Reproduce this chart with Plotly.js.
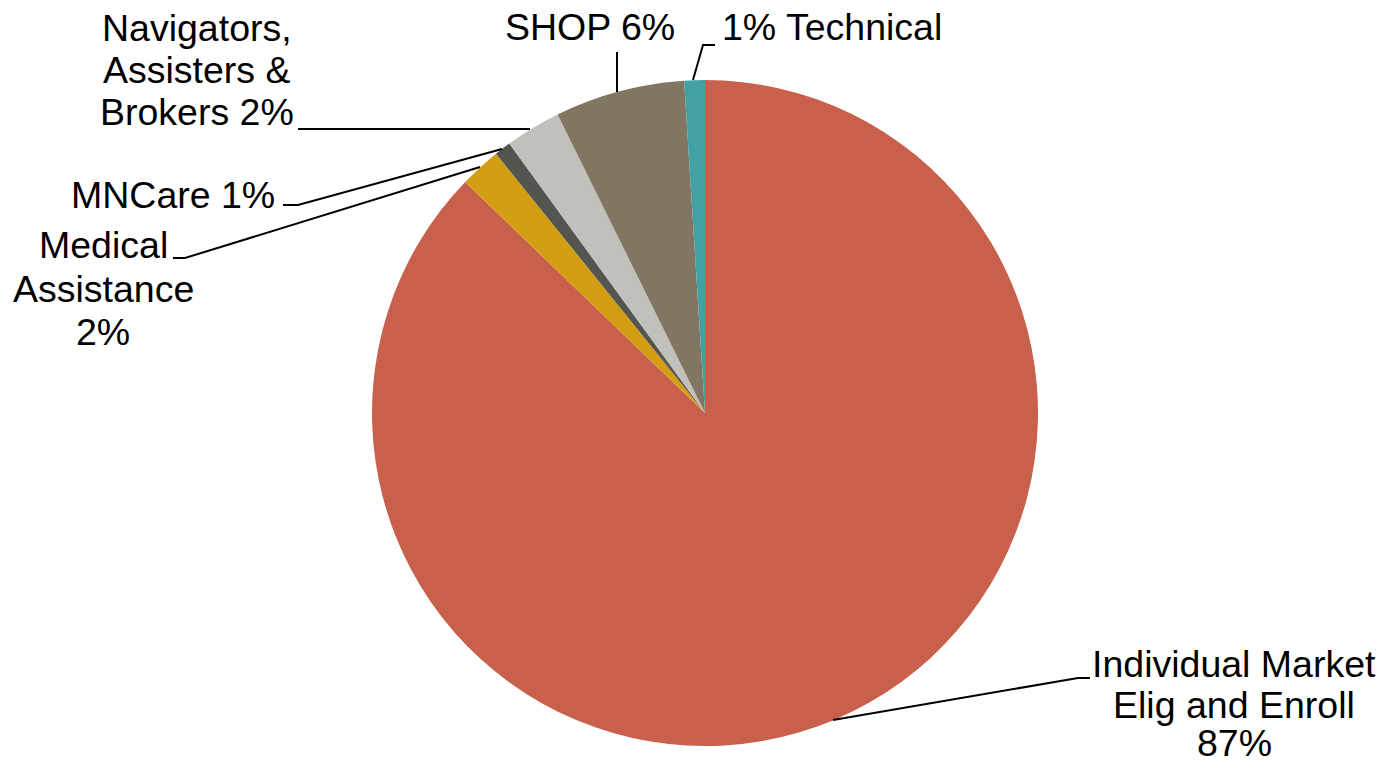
<!DOCTYPE html>
<html>
<head>
<meta charset="utf-8">
<script src="https://cdn.plot.ly/plotly-3.0.1.min.js"></script>
<style>html,body{margin:0;padding:0;background:#fff;}#chart{width:1381px;height:766px;}</style>
</head>
<body>
<div id="chart"></div>
<script>
// ---- Data ----
const categories = ["Individual Market Elig and Enroll", "Medical Assistance", "MNCare", "Navigators, Assisters & Brokers", "SHOP", "Technical"];
const values = [87.2, 2.0, 0.8, 2.7, 6.3, 1.0];
const percentLabels = ["87%", "2%", "1%", "2%", "6%", "1%"];
const labelLines = [
  ["Individual Market", "Elig and Enroll", "87%"],
  ["Medical", "Assistance", "2%"],
  ["MNCare 1%"],
  ["Navigators,", "Assisters &", "Brokers 2%"],
  ["SHOP 6%"],
  ["1% Technical"]
];
const colors = ["#C8604B", "#D49E13", "#53554F", "#C1C0BB", "#827663", "#42A2A3"];

// ---- Layout (pixel positions) ----
const W = 1381, H = 766;
const px = x => x / W;
const py = y => 1 - y / H;
const cx = 705, cy = 413, R = 333;

const labelPos = [
  {x: 1234, ys: [664, 705, 743], anchor: "center"},
  {x: 103, ys: [245, 289, 332], anchor: "center"},
  {x: 276, ys: [195], anchor: "right"},
  {x: 197, ys: [28, 70, 112], anchor: "center"},
  {x: 590, ys: [27], anchor: "center"},
  {x: 721, ys: [27], anchor: "left"}
];
const leaders = [
  [[833, 720], [1078, 678], [1090, 678]],
  [[480, 167], [185, 258], [173, 258]],
  [[502, 149], [298, 205], [283, 205]],
  [[530, 129], [298, 129]],
  [[617, 92], [617, 52]],
  [[693, 80], [703, 45], [715, 45]]
];

const annotations = [];
labelLines.forEach((lines, i) => {
  const p = labelPos[i];
  lines.forEach((t, j) => {
    annotations.push({
      x: px(p.x), y: py(p.ys[j]), xref: "paper", yref: "paper",
      xanchor: p.anchor, yanchor: "middle", text: t, showarrow: false,
      borderpad: 0,
      font: {family: "Liberation Sans, Arial, sans-serif", size: 37.5, color: "#000"}
    });
  });
});

const shapes = leaders.map(pts => ({
  type: "path", xref: "paper", yref: "paper",
  path: pts.map((p, k) => (k ? "L" : "M") + px(p[0]) + "," + py(p[1])).join(" "),
  line: {color: "#000", width: 2}
}));

const trace = {
  type: "pie",
  labels: categories,
  values: values,
  text: percentLabels,
  sort: false,
  direction: "clockwise",
  rotation: 0,
  textinfo: "none",
  hoverinfo: "label+text",
  marker: {colors: colors, line: {width: 0}},
  domain: {x: [(cx - R) / W, (cx + R) / W], y: [(H - cy - R) / H, (H - cy + R) / H]},
  showlegend: false
};

Plotly.newPlot("chart", [trace], {
  width: W, height: H,
  margin: {l: 0, r: 0, t: 0, b: 0},
  paper_bgcolor: "#fff",
  showlegend: false,
  annotations: annotations,
  shapes: shapes
}, {displayModeBar: false, staticPlot: true});
</script>
</body>
</html>
